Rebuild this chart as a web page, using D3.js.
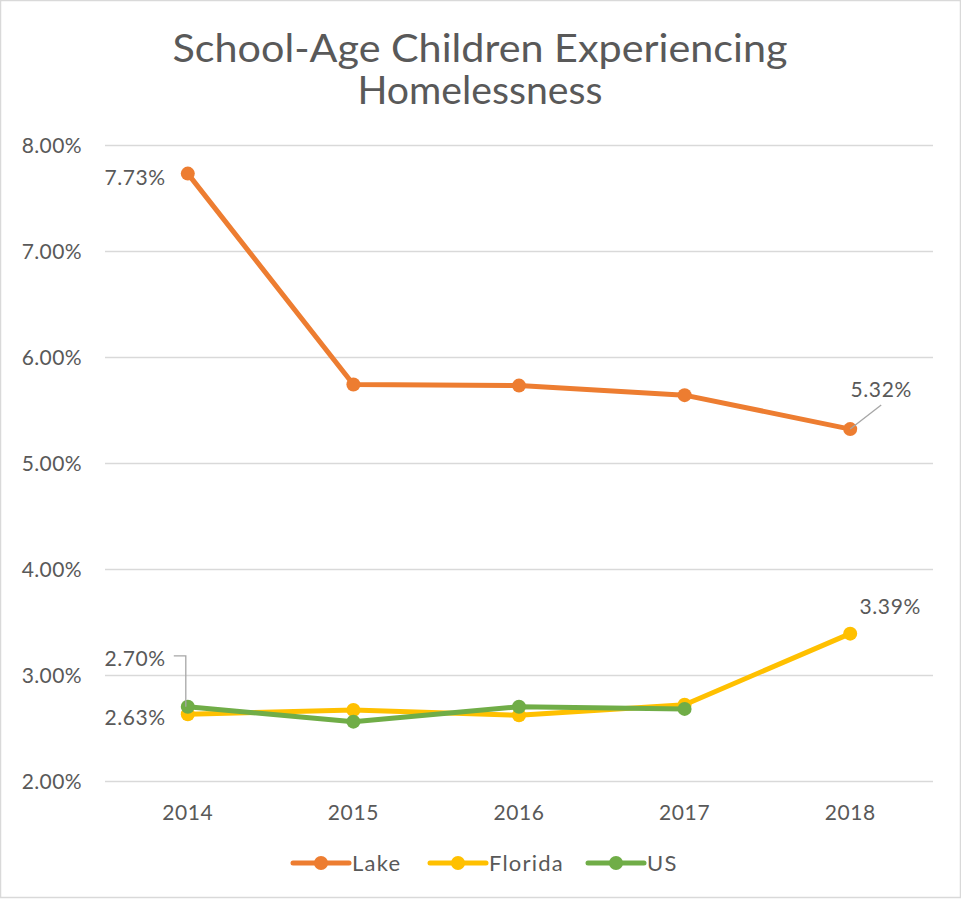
<!DOCTYPE html>
<html><head><meta charset="utf-8">
<script src="https://cdn.jsdelivr.net/npm/d3@7"></script>
<style>
html,body{margin:0;padding:0;background:#fff;}
text{font-family:"Century Gothic","Lato","Open Sans",sans-serif;fill:#595959;}
</style></head>
<body><svg id="c" width="961" height="902"></svg>
<script>
const years = ["2014","2015","2016","2017","2018"];
const lake = [7.73, 5.74, 5.73, 5.64, 5.32];
const florida = [2.63, 2.67, 2.62, 2.72, 3.39];
const us = [2.70, 2.56, 2.70, 2.68, null];
const yTicks = [2, 3, 4, 5, 6, 7, 8];
const seriesNames = ["Lake", "Florida", "US"];
const seriesColors = ["#ED7D31", "#FFC000", "#70AD47"];
const titleLines = ["School-Age Children Experiencing", "Homelessness"];

const svg = d3.select("#c");
svg.append("rect").attr("x",0.5).attr("y",0.5).attr("width",960).attr("height",897)
  .attr("fill","#fff").attr("stroke","#d9d9d9").attr("stroke-width",1.5);

const x = d3.scaleBand().domain(years).range([105, 933]);
const y = d3.scaleLinear().domain([2, 8]).range([781, 145]);
const cx = d => x(d) + x.bandwidth()/2;

// title
const titleW = [615, 245];
svg.append("g").selectAll("text").data(titleLines).join("text")
  .attr("x", 480).attr("y", (d,i)=> 62 + i*42)
  .attr("text-anchor","middle").attr("font-size", 38)
  .attr("textLength", (d,i)=>titleW[i]).attr("lengthAdjust","spacingAndGlyphs").text(d=>d);

// grid
const yAxis = d3.axisLeft(y).tickValues(yTicks).tickSize(-(933-105)).tickFormat(d=>d.toFixed(2)+"%");
const ga = svg.append("g").attr("transform","translate(105,0)").call(yAxis);
ga.select(".domain").remove();
ga.selectAll(".tick line").attr("stroke","#d9d9d9").attr("stroke-width",1.5);
ga.selectAll(".tick text").attr("x",-23).attr("font-size",21).attr("letter-spacing",0.4)
  .attr("fill","#595959").attr("font-family",null).attr("dy","0.35em");

const xAxis = d3.axisBottom(x).tickSize(0);
const gx = svg.append("g").attr("transform","translate(0,781)").call(xAxis);
gx.select(".domain").remove();
gx.selectAll(".tick text").attr("font-size",21).attr("letter-spacing",0.6)
  .attr("fill","#595959").attr("font-family",null).attr("dy",0).attr("y",39);

const data = [lake, florida, us];
const line = d3.line().defined(d=>d.v!=null).x(d=>cx(d.year)).y(d=>y(d.v));
data.forEach((vals, i) => {
  const pts = years.map((yr,j)=>({year:yr, v:vals[j]}));
  svg.append("path").datum(pts).attr("d", line).attr("fill","none")
    .attr("stroke", seriesColors[i]).attr("stroke-width",5).attr("stroke-linejoin","round").attr("stroke-linecap","round");
  svg.append("g").selectAll("circle").data(pts.filter(p=>p.v!=null)).join("circle")
    .attr("cx", p=>cx(p.year)).attr("cy", p=>y(p.v)).attr("r",7).attr("fill",seriesColors[i]);
});

// data labels
const lbl = (txt, xx, yy, anchor) => svg.append("text").attr("x",xx).attr("y",yy)
  .attr("text-anchor",anchor).attr("dy","0.35em").attr("font-size",21).attr("letter-spacing",0.6).text(txt);
const fmt = v => v.toFixed(2)+"%";
lbl(fmt(lake[0]), cx(years[0]) - 22, y(lake[0]) + 4, "end");
lbl(fmt(lake[4]), cx(years[4]) + 31, y(lake[4]) - 39, "middle");
svg.append("line").attr("x1", cx(years[4])).attr("y1", y(lake[4]))
  .attr("x2", cx(years[4]) + 31).attr("y2", y(lake[4]) - 24).attr("stroke","#a6a6a6").attr("stroke-width",1.3);
lbl(fmt(florida[4]), cx(years[4]) + 40, y(florida[4]) - 27, "middle");
lbl(fmt(florida[0]), cx(years[0]) - 22, y(florida[0]) + 3, "end");
lbl(fmt(us[0]), cx(years[0]) - 22, y(us[0]) - 48, "end");
svg.append("path").attr("d", `M${cx(years[0])-14},${y(us[0])-51}H${cx(years[0])-2}V${y(us[0])}`)
  .attr("fill","none").attr("stroke","#a6a6a6").attr("stroke-width",1.3);

// legend
const legX = [293, 430, 588];
const lg = svg.append("g");
seriesNames.forEach((n,i)=>{
  const g = lg.append("g").attr("transform",`translate(${legX[i]},863)`);
  g.append("line").attr("x1",0).attr("x2",56).attr("stroke",seriesColors[i]).attr("stroke-width",5).attr("stroke-linecap","round");
  g.append("circle").attr("cx",28).attr("r",7).attr("fill",seriesColors[i]);
  g.append("text").attr("x",59).attr("dy","0.35em").attr("font-size",22).attr("letter-spacing",1.2).text(n);
});
</script></body></html>
